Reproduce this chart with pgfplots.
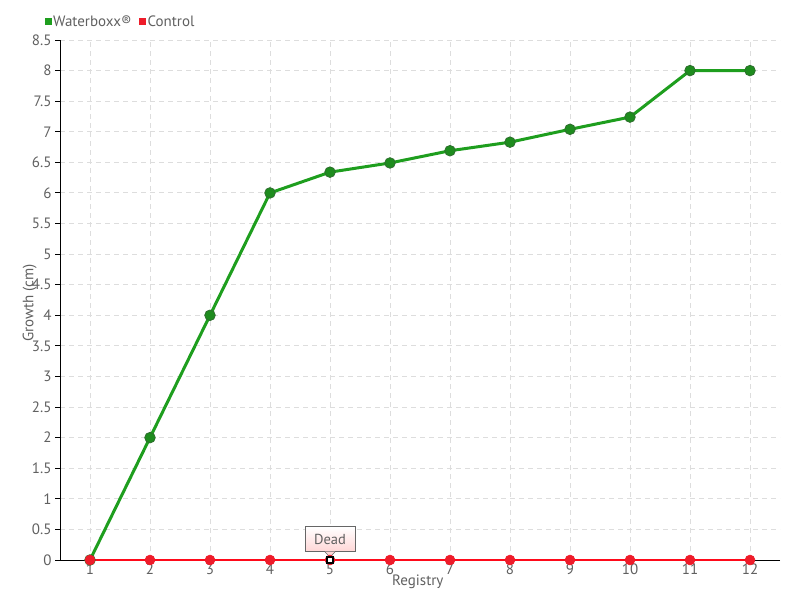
\documentclass[border=0pt]{standalone}
\usepackage{fontspec}
\setmainfont{PT Sans}
\usepackage{pgfplots}
\pgfplotsset{compat=1.18}
\definecolor{txt}{HTML}{606060}
\definecolor{gridc}{HTML}{DDDDDD}
\definecolor{wbline}{HTML}{1E9E1E}
\definecolor{wbfill}{HTML}{1E8C1E}
\definecolor{wbedge}{HTML}{2E6E2E}
\definecolor{ctline}{HTML}{FF0A1A}
\definecolor{ctfill}{HTML}{EE1C2A}
\definecolor{tipc}{HTML}{FFD6D6}
\begin{document}
\begin{tikzpicture}[x=1pt,y=1pt]
\path[use as bounding box] (0,0) rectangle (800,600);
\begin{axis}[
  at={(60pt,40pt)}, anchor=south west,
  scale only axis, width=720pt, height=520pt,
  xmin=0.5, xmax=12.5, ymin=0, ymax=8.5,
  clip=false,
  axis x line*=bottom, axis y line*=left,
  axis line style={black, line width=0.9pt, -},
  xtick={1,...,12},
  ytick={0,0.5,...,8.5},
  x tick label style={font=\fontsize{15}{16}\selectfont, text=txt, yshift=5pt},
  y tick label style={font=\fontsize{15}{16}\selectfont, text=txt},
  /pgf/number format/assume math mode=true,
  yticklabel={\pgfmathprintnumber[fixed, precision=1]{\tick}},
  xtick style={draw=none},
  ytick style={black, line width=0.9pt},
  major tick length=5pt,
  tick align=outside,
  grid=major,
  major grid style={gridc, dashed, dash pattern=on 5pt off 4pt, line width=0.9pt},
  xlabel={Registry}, ylabel={Growth (cm)},
  label style={font=\fontsize{15}{16}\selectfont, text=txt},
  xlabel style={at={(axis description cs:0.497,0)}, anchor=center, yshift=-22pt},
  ylabel style={at={(axis description cs:-0.042,0.494)}, anchor=center},
  legend columns=2,
  legend style={at={(rel axis cs:0,1)}, anchor=south west, xshift=-16pt, yshift=9pt,
    draw=none, fill=none, font=\fontsize{15}{16}\selectfont, text=txt,
    /tikz/every even column/.append style={column sep=6pt},
    inner sep=1pt},
  legend cell align=left,
]
\addlegendimage{only marks, mark=square*, mark size=3pt, color=wbline}
\addlegendentry{Waterboxx®}
\addlegendimage{only marks, mark=square*, mark size=3pt, color=ctfill}
\addlegendentry{Control}

\addplot[forget plot, color=wbline, line width=3pt, mark=*, mark size=5.3pt,
  mark options={fill=wbfill, draw=wbedge, line width=0.8pt}]
  coordinates {(1,0) (2,2) (3,4) (4,6) (5,6.34) (6,6.49) (7,6.69) (8,6.83) (9,7.04) (10,7.24) (11,8) (12,8)};

\addplot[forget plot, color=ctline, line width=1.2pt, mark=*, mark size=5pt,
  mark options={fill=ctfill, draw=ctfill, line width=0.5pt}]
  coordinates {(1,0) (2,0) (3,0) (4,0) (5,0) (6,0) (7,0) (8,0) (9,0) (10,0) (11,0) (12,0)};

\addplot[forget plot, only marks, mark=square*, mark size=3pt,
  mark options={fill=white, draw=black, line width=1.6pt}]
  coordinates {(5,0)};

\node[draw=gray!80!black, line width=0.6pt, top color=white, bottom color=tipc,
  minimum width=50pt, minimum height=25pt, inner sep=2pt, anchor=south,
  font=\fontsize{14.5}{15}\selectfont, text=txt] (tip) at ([yshift=8pt]axis cs:5,0) {Dead};
\fill[tipc] ([xshift=-5pt,yshift=0.4pt]tip.south) -- ([yshift=-5pt]tip.south) -- ([xshift=5pt,yshift=0.4pt]tip.south) -- cycle;
\draw[gray!80!black, line width=0.6pt] ([xshift=-5pt]tip.south) -- ([yshift=-5pt]tip.south) -- ([xshift=5pt]tip.south);
\end{axis}
\end{tikzpicture}
\end{document}
